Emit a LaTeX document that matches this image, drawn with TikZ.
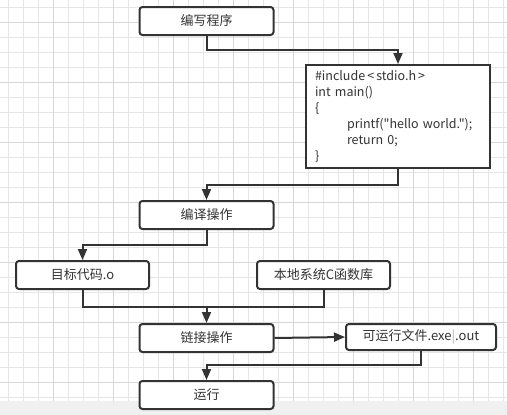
\documentclass[tikz,border=0pt]{standalone}
\usepackage{fontspec}
\setmainfont{Noto Sans CJK SC}
\newfontfamily\codefont{Noto Sans CJK SC}[Ligatures=TeXOff]
\usetikzlibrary{arrows.meta}

\definecolor{linegray}{HTML}{333333}
\definecolor{gridminor}{HTML}{E6E6E6}
\definecolor{gridmajor}{HTML}{D6D6D6}
\definecolor{bandgray}{HTML}{F0F0F0}

\begin{document}
\begin{tikzpicture}[x=1pt, y=-1pt, >={Triangle[length=11pt,width=9pt]},
                    flow/.style={draw=linegray, line width=2pt},
                    stepbox/.style={rounded corners=3pt, draw=linegray, line width=2pt,
                      fill=white, minimum width=134pt, minimum height=28pt, inner sep=0pt,
                      text=linegray, font=\fontsize{13}{15}\selectfont},
                    codebox/.style={draw=linegray, line width=2pt, fill=white,
                      minimum width=184pt, minimum height=103pt, text width=166pt,
                      inner xsep=9pt, align=left, text=linegray,
                      font=\codefont\fontsize{12.5}{16}\selectfont}]

  % background grid
  \useasboundingbox (0,0) rectangle (507,415);
  \foreach \x in {8,23,...,503} \draw[gridminor, line width=1pt] (\x,0) -- (\x,415);
  \foreach \y in {7,22,...,412} \draw[gridminor, line width=1pt] (0,\y) -- (507,\y);
  \foreach \x in {53,113,...,503} \draw[gridmajor, line width=1pt] (\x,0) -- (\x,415);
  \foreach \y in {22,82,...,412} \draw[gridmajor, line width=1pt] (0,\y) -- (507,\y);
  \fill[bandgray] (0,401) rectangle (507,415);

  \node[stepbox] (write) at (206.5,21) {编写程序};
  \node[codebox] (code) at (398,116.5) {\#include\,<\,stdio.h\,>\\
    int main()\\
    \{\\
    \hspace*{32pt}printf("hello world.");\\
    \hspace*{32pt}return 0;\\
    \}};
  \node[stepbox] (compile) at (206.5,215) {编译操作};
  \node[stepbox, minimum width=133pt] (obj) at (82.5,275) {目标代码.o};
  \node[stepbox, minimum width=133pt] (lib) at (323.5,275) {本地系统C函数库};
  \node[stepbox] (link) at (206.5,338) {链接操作};
  \node[stepbox, minimum width=150pt, minimum height=26pt] (exe) at (421,337)
    {可运行文件.exe{\color{gray!60}|}.out};
  \node[stepbox] (run) at (206.5,395) {运行};

  \draw[flow, ->] (write.south) -- (write.south |- 0,50) -| (code.north);
  \draw[flow, ->] (code.south) -- (code.south |- 0,185) -| (compile.north);
  \draw[flow, ->] (compile.south) -- (compile.south |- 0,245) -| (obj.north);
  \draw[flow] (obj.south) -- (obj.south |- 0,307) -| (lib.south);
  \draw[flow, ->] (link.north |- 0,307) -- (link.north);
  \draw[flow, ->] (link.east) -- (exe.west);
  \draw[flow, ->] (exe.south) -- (exe.south |- 0,365) -| (run.north);
\end{tikzpicture}
\end{document}
